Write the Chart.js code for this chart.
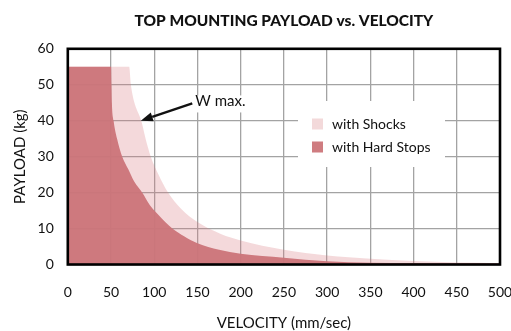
<!DOCTYPE html>
<html>
<head>
<meta charset="utf-8">
<script src="https://cdn.jsdelivr.net/npm/chart.js@4"></script>
<style>
  html, body { margin: 0; padding: 0; background: #fff; }
  canvas { display: block; }
</style>
</head>
<body>
<canvas id="payloadChart" width="511" height="331"></canvas>
<script>
// Payload limits (velocity in mm/sec, payload in kg)
const hardStopVelocity = [0, 50, 50.5, 51, 53, 57, 63, 70, 77, 86, 95, 105, 121, 135, 150, 175, 200, 250, 300, 350, 400, 450, 500];
const hardStopPayload  = [55, 55, 50, 45, 40, 35, 30, 26.5, 23, 20, 16.5, 13.8, 10, 7.8, 5.9, 4.1, 3.0, 1.9, 0.9, 0.5, 0.4, 0.32, 0.3];

const shockVelocity = [0, 71, 73, 76.5, 85, 90, 96, 105, 116, 131, 150, 177, 200, 250, 300, 350, 400, 450, 500];
const shockPayload  = [55, 55, 50, 45.5, 40, 35, 30, 25, 20, 15.5, 11.8, 8.5, 6.7, 4.1, 2.5, 1.6, 0.95, 0.55, 0.38];

const velocityTicks = [0, 50, 100, 150, 200, 250, 300, 350, 400, 450, 500];
const payloadTicks  = [0, 10, 20, 30, 40, 50, 60];

const FONT = 'Lato, "Noto Sans", sans-serif';

function toPoints(xs, ys) {
    return xs.map((x, i) => ({ x: x, y: ys[i] }));
}

// Thick frame round the plot area
const framePlugin = {
    id: 'frame',
    afterDatasetsDraw(chart) {
        const { ctx, chartArea: a } = chart;
        ctx.save();
        ctx.strokeStyle = '#000';
        ctx.lineWidth = 2.6;
        ctx.strokeRect(a.left, a.top, a.right - a.left, a.bottom - a.top);
        ctx.restore();
    }
};

// Legend box sitting inside the grid, white behind it
const boxLegendPlugin = {
    id: 'boxLegend',
    afterDatasetsDraw(chart) {
        const { ctx } = chart;
        const sets = chart.data.datasets.slice().reverse();
        ctx.save();
        ctx.fillStyle = '#fff';
        ctx.fillRect(298, 101, 147, 66);
        ctx.font = '14px ' + FONT;
        ctx.textBaseline = 'middle';
        sets.forEach((ds, i) => {
            const y = 124 + i * 23;
            ctx.fillStyle = ds.swatch;
            ctx.fillRect(312, y - 5.5, 11, 11);
            ctx.fillStyle = '#111';
            ctx.fillText(ds.label, 332, y);
        });
        ctx.restore();
    }
};

// "W max." callout with an arrow onto the shock curve
const wMaxPlugin = {
    id: 'wMax',
    afterDatasetsDraw(chart) {
        const { ctx, scales: { x, y } } = chart;
        const tipX = x.getPixelForValue(84.5), tipY = y.getPixelForValue(40);
        const tailX = x.getPixelForValue(144), tailY = y.getPixelForValue(44.8);
        ctx.save();
        ctx.fillStyle = '#fff';
        ctx.fillRect(tailX + 1, tailY - 8, 58, 17);
        ctx.font = '15px ' + FONT;
        ctx.textBaseline = 'middle';
        ctx.fillStyle = '#111';
        ctx.fillText('W max.', tailX + 3, tailY - 2);

        const ang = Math.atan2(tipY - tailY, tipX - tailX);
        const head = 12, half = 4.5;
        const baseX = tipX - head * Math.cos(ang), baseY = tipY - head * Math.sin(ang);
        ctx.strokeStyle = '#111';
        ctx.lineWidth = 2.4;
        ctx.beginPath();
        ctx.moveTo(tailX, tailY);
        ctx.lineTo(baseX, baseY);
        ctx.stroke();
        ctx.beginPath();
        ctx.moveTo(tipX, tipY);
        ctx.lineTo(baseX + half * Math.sin(ang), baseY - half * Math.cos(ang));
        ctx.lineTo(baseX - half * Math.sin(ang), baseY + half * Math.cos(ang));
        ctx.closePath();
        ctx.fillStyle = '#111';
        ctx.fill();
        ctx.restore();
    }
};

new Chart(document.getElementById('payloadChart').getContext('2d'), {
    type: 'line',
    data: {
        datasets: [{
            label: 'with Hard Stops',
            data: toPoints(hardStopVelocity, hardStopPayload),
            fill: 'origin',
            backgroundColor: 'rgba(203,116,121,0.95)',
            swatch: '#cf7c80',
            borderWidth: 0,
            pointRadius: 0,
            cubicInterpolationMode: 'monotone'
        }, {
            label: 'with Shocks',
            data: toPoints(shockVelocity, shockPayload),
            fill: 'origin',
            backgroundColor: 'rgba(215,120,125,0.28)',
            swatch: '#f3d9da',
            borderWidth: 0,
            pointRadius: 0,
            cubicInterpolationMode: 'monotone'
        }]
    },
    options: {
        responsive: false,
        animation: false,
        layout: { padding: { left: 0, right: 11, top: 0, bottom: 0 } },
        plugins: {
            legend: { display: false },
            tooltip: { enabled: false },
            title: {
                display: true,
                fullSize: false,
                text: 'TOP MOUNTING PAYLOAD vs. VELOCITY',
                color: '#111',
                font: { family: FONT, size: 15.5, weight: '900', lineHeight: 1.2 },
                padding: { top: 12, bottom: 18.2 }
            }
        },
        scales: {
            x: {
                type: 'linear',
                min: 0,
                max: 500,
                afterBuildTicks(scale) { scale.ticks = velocityTicks.map(v => ({ value: v })); },
                afterFit(scale) {
                    scale.height = 66.5;
                    scale.paddingLeft = 0;
                    scale.paddingRight = 0;
                },
                ticks: { color: '#111', padding: 20, font: { family: FONT, size: 14 } },
                grid: { color: '#a3a3a3', lineWidth: 1.3, drawTicks: false },
                border: { display: false },
                title: {
                    display: true,
                    text: 'VELOCITY (mm/sec)',
                    color: '#111',
                    font: { family: FONT, size: 15, lineHeight: 1 },
                    padding: 0
                }
            },
            y: {
                min: 0,
                max: 60,
                afterBuildTicks(scale) { scale.ticks = payloadTicks.map(v => ({ value: v })); },
                afterFit(scale) {
                    scale.width = 67.8;
                    scale.paddingTop = 0;
                    scale.paddingBottom = 0;
                },
                ticks: { color: '#111', padding: 14, font: { family: FONT, size: 14 } },
                grid: { color: '#a3a3a3', lineWidth: 1.3, drawTicks: false },
                border: { display: false },
                title: {
                    display: true,
                    text: 'PAYLOAD (kg)',
                    color: '#111',
                    font: { family: FONT, size: 15, lineHeight: 1 },
                    padding: { top: 12.5, bottom: 0 }
                }
            }
        }
    },
    plugins: [framePlugin, boxLegendPlugin, wMaxPlugin]
});
</script>
</body>
</html>
